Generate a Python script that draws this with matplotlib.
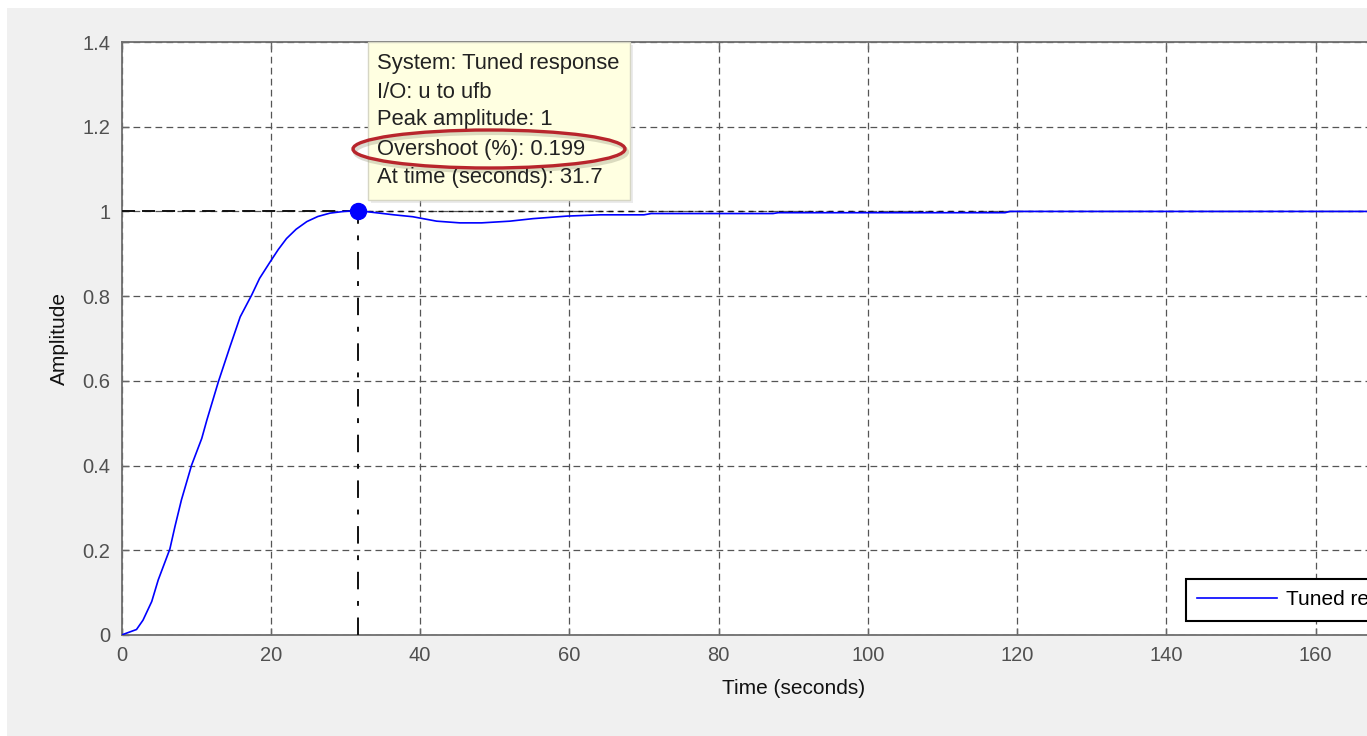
import matplotlib
matplotlib.use("Agg")
import matplotlib.pyplot as plt
from matplotlib.patches import Rectangle, Ellipse

# ---- data ----
time_s = [0, 2.01, 2.88, 4.05, 4.92, 6.48, 7.16, 8.03, 9.39, 10.75, 11.43, 12.98,
          14.54, 15.90, 17.45, 18.5, 19.88, 21.0, 22.11, 23.4, 24.83, 26.3, 27.94,
          29.8, 31.7, 33.58, 36.49, 39.02, 42.22, 45.33, 48.24, 52.03, 55.14, 59.70,
          64.17, 70.00, 70.97, 87.29, 87.97, 118.37, 119.05, 180]
amplitude = [0, 0.013, 0.035, 0.079, 0.13, 0.203, 0.256, 0.319, 0.401, 0.464, 0.507,
             0.598, 0.681, 0.751, 0.803, 0.842, 0.880, 0.910, 0.936, 0.958, 0.976,
             0.988, 0.996, 1.0, 1.002, 0.998, 0.992, 0.9875, 0.977, 0.973, 0.973,
             0.977, 0.983, 0.989, 0.992, 0.992, 0.995, 0.995, 0.997, 0.997, 1.0, 1.0]
peak_time = 31.7
peak_amp = 1.0
final_value = 1.0
x_ticks = [0, 20, 40, 60, 80, 100, 120, 140, 160, 180]
y_ticks = [0, 0.2, 0.4, 0.6, 0.8, 1.0, 1.2, 1.4]
y_ticklabels = ["0", "0.2", "0.4", "0.6", "0.8", "1", "1.2", "1.4"]
tip_lines = ["System: Tuned response", "I/O: u to ufb", "Peak amplitude: 1",
             "Overshoot (%): 0.199", "At time (seconds): 31.7"]
series_name = "Tuned response"

W, H = 1367, 736
plt.rcParams['font.family'] = ['Liberation Sans', 'DejaVu Sans']
fig = plt.figure(figsize=(W / 100, H / 100), dpi=100, facecolor='white')
fig.patches.append(Rectangle((7 / W, 0), 1, 1 - 8 / H, transform=fig.transFigure,
                             facecolor='#f0f0f0', edgecolor='none', zorder=-10))

ax_left, ax_right, ax_top, ax_bot = 121.5, 1465, 42, 635
ax = fig.add_axes([ax_left / W, 1 - ax_bot / H, (ax_right - ax_left) / W, (ax_bot - ax_top) / H])
ax.set_facecolor('white')
ax.set_xlim(0, 180)
ax.set_ylim(0, 1.4)

grid_c = '#555555'
ax.set_xticks(x_ticks)
ax.set_yticks(y_ticks)
ax.set_yticklabels(y_ticklabels)
ax.grid(True, color=grid_c, linestyle=(0, (5.4, 3.4)), linewidth=0.9)
ax.set_axisbelow(True)

tick_c = '#505050'
ax.tick_params(axis='both', direction='in', length=5, width=1.0, color='#666666',
               labelsize=14.5, labelcolor=tick_c, top=True, right=True)
ax.tick_params(axis='x', pad=8)
ax.tick_params(axis='y', pad=8)
for s in ax.spines.values():
    s.set_color('#6e6e6e')
    s.set_linewidth(1.3)

# response curve
ax.plot(time_s, amplitude, color='#0000ff', linewidth=1.2, label=series_name, zorder=4)

# peak characteristic lines
ax.plot([0, peak_time], [peak_amp, peak_amp], color='#111111', linewidth=1.4,
        linestyle=(0, (6.7, 3.6)), zorder=3)
ax.plot([peak_time, peak_time], [0, peak_amp], color='#111111', linewidth=1.4,
        linestyle=(0, (9, 6, 2.5, 6)), zorder=3)
ax.plot([peak_time, 180], [final_value, final_value], color='#111111', linewidth=1.0,
        linestyle=(0, (3.6, 3.6)), zorder=3)
ax.plot([peak_time], [peak_amp], marker='o', markersize=11.5, color='#0000ff', zorder=6)

ax.set_xlabel("Time (seconds)", fontsize=15, color='#111111', labelpad=10)
ax.set_ylabel("Amplitude", fontsize=15, color='#111111', labelpad=10)

leg = ax.legend(loc='upper left', bbox_to_anchor=(1186 / W, 1 - 579 / H),
                bbox_transform=fig.transFigure, fontsize=15, handlelength=3.8,
                handletextpad=0.45, borderpad=0.55, borderaxespad=0, fancybox=False,
                framealpha=1, edgecolor='black')
leg.get_frame().set_linewidth(1.5)

# data tip box
bx0, bx1, by0, by1 = 368, 630, 42, 200
fig.patches.append(Rectangle((bx0 / W + 3 / W, 1 - (by1 + 3) / H), (bx1 - bx0) / W, (by1 - by0) / H,
                             transform=fig.transFigure, facecolor='#c8c8c8', alpha=0.35,
                             edgecolor='none', zorder=20))
fig.patches.append(Rectangle((bx0 / W, 1 - by1 / H), (bx1 - bx0) / W, (by1 - by0) / H,
                             transform=fig.transFigure, facecolor='#ffffe1',
                             edgecolor='#d6d6c4', linewidth=1.0, zorder=21))
line_y = [64, 92, 120, 149, 177]
for txt, yy in zip(tip_lines, line_y):
    fig.text(377 / W, 1 - yy / H, txt, fontsize=15.8, color='#222222',
             ha='left', va='center', zorder=22)

# red highlight ellipse
fig.patches.append(Ellipse((491 / W, 1 - 152 / H), 272 / W, 38 / H, transform=fig.transFigure,
                           facecolor='none', edgecolor='#9a9a80', alpha=0.35,
                           linewidth=3, zorder=22))
fig.patches.append(Ellipse((489 / W, 1 - 149 / H), 272 / W, 38 / H, transform=fig.transFigure,
                           facecolor='none', edgecolor='#b8252c', linewidth=2.4, zorder=23))

fig.savefig("out.png", dpi=100, facecolor=fig.get_facecolor())
